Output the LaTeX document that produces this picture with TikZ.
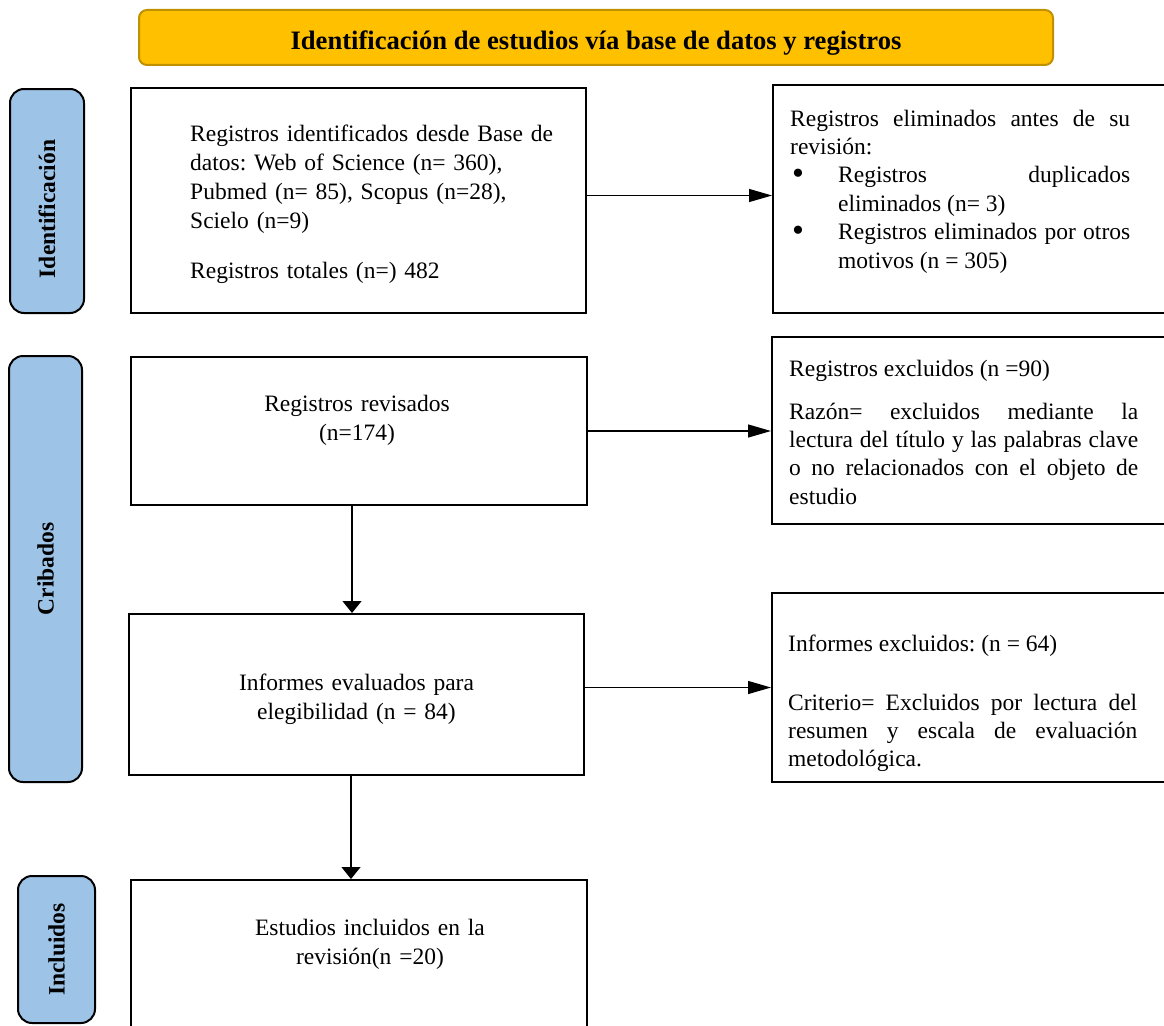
\documentclass[tikz,border=0pt]{standalone}
\usepackage{fontspec}
\usepackage{graphicx}
\setmainfont{Liberation Serif}
\usetikzlibrary{arrows.meta,calc}
\definecolor{titlefill}{HTML}{FFC000}
\definecolor{titledraw}{HTML}{BF9000}
\definecolor{sidefill}{HTML}{9DC3E6}
\newcommand{\bigbul}{\raisebox{-1.5pt}{\scalebox{1.45}{\textbullet}}}
\begin{document}
\frenchspacing
\begin{tikzpicture}[x=1pt,y=-1pt,
  box/.style={draw=black, line width=2pt, fill=white, inner sep=0pt},
  sidebox/.style={draw=black, line width=2pt, fill=sidefill, rounded corners=14pt, inner sep=0pt},
  titlebox/.style={draw=titledraw, line width=2pt, fill=titlefill, rounded corners=8pt, inner sep=0pt},
  txt/.style={inner sep=0pt, text width=#1, font=\fontsize{23.5}{29.3}\selectfont},
  jtxt/.style={inner sep=0pt, text width=#1, align=justify, font=\fontsize{23.5}{28.4}\selectfont},
  sidetxt/.style={inner sep=0pt, rotate=90, font=\fontsize{23.5}{28}\selectfont\bfseries},
  arr/.style={line width=1.3pt, -{Triangle[length=23pt,width=13pt]}},
  darr/.style={line width=1.3pt, -{Triangle[length=12pt,width=19pt]}},
]
\useasboundingbox (0,0) rectangle (1164,1025);
\clip (0,0) rectangle (1164,1025);

% title
\node[titlebox, minimum width=914pt, minimum height=55pt] (title) at (596,37.5) {};
\node[inner sep=0pt, anchor=base, font=\fontsize{26.6}{30}\selectfont\bfseries] (titlet) at (596,49)
  {Identificación de estudios vía base de datos y registros};

% side labels
\node[sidebox, minimum width=74pt, minimum height=224pt] (s1) at (47,201) {};
\node[sidetxt] (s1t) at ([yshift=-8pt]s1.center) {Identificación};
\node[sidebox, minimum width=73pt, minimum height=426pt] (s2) at (45.5,569) {};
\node[sidetxt] (s2t) at (s2) {Cribados};
\node[sidebox, minimum width=77pt, minimum height=147pt] (s3) at (56.5,949.5) {};
\node[sidetxt] (s3t) at (s3) {Incluidos};

% boxes
\node[box, minimum width=455pt, minimum height=225pt] (b1) at (358.5,200.5) {};
\node[box, minimum width=407pt, minimum height=228pt] (b2) at (976.5,199) {};
\node[box, minimum width=456pt, minimum height=148pt] (b3) at (359,431) {};
\node[box, minimum width=408pt, minimum height=187pt] (b4) at (976,430.5) {};
\node[box, minimum width=455pt, minimum height=161pt] (b5) at (356.5,694.5) {};
\node[box, minimum width=408pt, minimum height=189pt] (b6) at (976,687.5) {};
\node[box, minimum width=456pt, minimum height=180pt] (b7) at (359,970) {};

% texts
\node[txt=390pt, align=left, anchor=base west] (t1) at (190,141)
  {Registros identificados desde Base de\\datos: Web of Science (n= 360),\\Pubmed (n= 85), Scopus (n=28),\\Scielo (n=9)\\[20.7pt]Registros totales (n=) 482};

\node[jtxt=340pt, anchor=base west] (t2) at (790,126)
  {\parindent=0pt Registros eliminados antes de su\linebreak revisión:\par
   \hangindent=48pt\hangafter=1\noindent\makebox[48pt][l]{\hspace{2pt}\bigbul}Registros duplicados\linebreak eliminados (n= 3)\par
   \hangindent=48pt\hangafter=1\noindent\makebox[48pt][l]{\hspace{2pt}\bigbul}Registros eliminados por otros\linebreak motivos (n = 305)\par};

\node[txt=440pt, align=center, anchor=base] (t3) at (357,411)
  {Registros revisados\\(n=174)};

\node[jtxt=349pt, anchor=base west] (t4) at (789,376)
  {\parindent=0pt Registros excluidos (n =90)\par\vspace{14.7pt}
   Razón= excluidos mediante la\linebreak lectura del título y las palabras clave\linebreak o no relacionados con el objeto de\linebreak estudio\par};

\node[txt=440pt, align=center, anchor=base] (t5) at (356.5,690)
  {Informes evaluados para\\elegibilidad (n = 84)};

\node[jtxt=349pt, anchor=base west] (t6) at (788,651)
  {\parindent=0pt Informes excluidos: (n = 64)\par\vspace{30.6pt}
   Criterio= Excluidos por lectura del\linebreak resumen y escala de evaluación\linebreak metodológica.\par};

\node[txt=440pt, align=center, anchor=base] (t7) at (370,935)
  {Estudios incluidos en la\\revisión(n =20)};

% connectors
\draw[arr] ([yshift=5pt]b1.east) -- ([yshift=5pt]b1.east -| b2.west);
\draw[arr] (b3.east) -- (b3.east -| b4.west);
\draw[arr] (b5.east |- b6.west) -- (b6.west);
\draw[darr] ([xshift=-7pt]b3.south) -- ([xshift=-7pt]b3.south |- b5.north);
\draw[darr] ([xshift=-5.5pt]b5.south) -- ([xshift=-5.5pt]b5.south |- b7.north);
\end{tikzpicture}
\end{document}
